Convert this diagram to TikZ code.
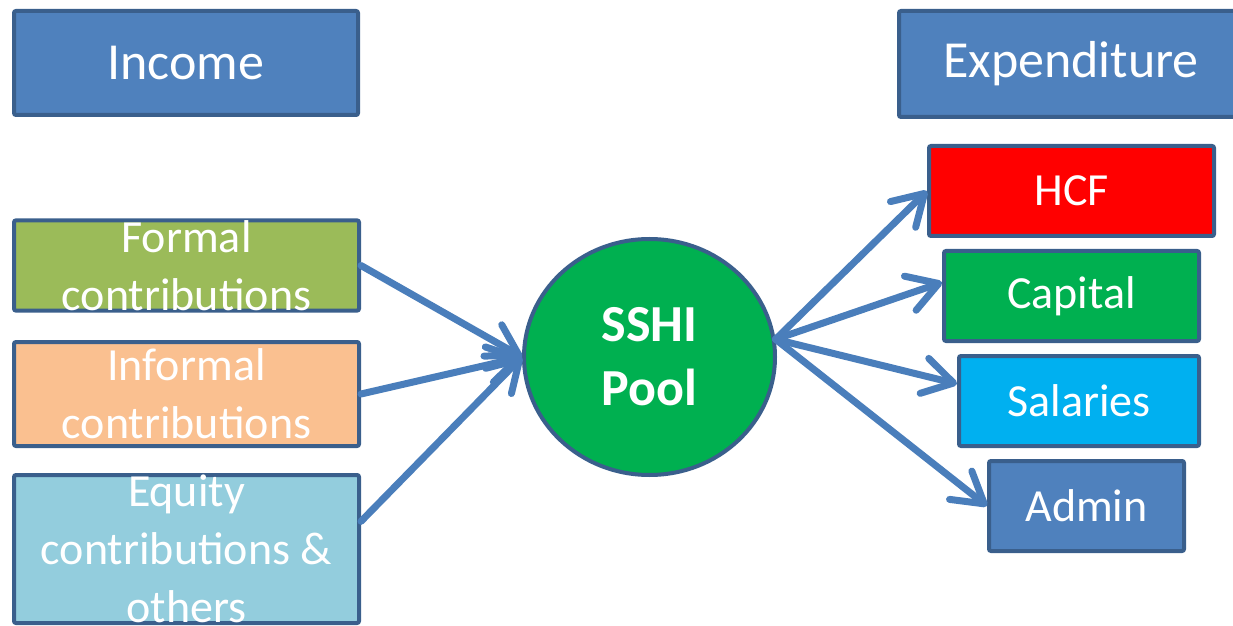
\documentclass[tikz,border=0pt]{standalone}
\usepackage{fontspec}
\setmainfont{Carlito}
\usetikzlibrary{shapes.geometric,arrows.meta}

\definecolor{boxblue}{HTML}{4F81BD}
\definecolor{edgeblue}{HTML}{3A5F8C}
\definecolor{arrowblue}{HTML}{4A7EBB}
\definecolor{formalgreen}{HTML}{9BBB59}
\definecolor{informalpeach}{HTML}{FAC090}
\definecolor{equityblue}{HTML}{93CDDD}
\definecolor{poolgreen}{HTML}{00B050}
\definecolor{hcfred}{HTML}{FF0000}
\definecolor{salaryblue}{HTML}{00B0F0}

\tikzset{
  box/.style={draw=edgeblue, line width=2pt, rounded corners=1pt, inner sep=0pt, text=white, align=center},
  titlebox/.style={box, fill=boxblue, font=\fontsize{26}{32}\selectfont},
  itembox/.style={box, font=\fontsize{23}{29}\selectfont},
  flow/.style={->, draw=arrowblue, line width=3.5pt, line cap=round}
}

\begin{document}
\begin{tikzpicture}[x=0.5pt, y=-0.5pt, >={Straight Barb[length=15pt,width=18pt,round]}]
    \useasboundingbox (0,0) rectangle (1233,626);
    \clip (0,0) rectangle (1233,626);

    % Headings
    \node[titlebox, minimum width=172pt, minimum height=52pt] (income) at (186,63) {Income};
    \node[titlebox, minimum width=172pt, minimum height=53pt] (expenditure) at (1071,64) {Expenditure};

    % Sources of income
    \node[itembox, fill=formalgreen, minimum width=172.5pt, minimum height=45pt] (formal) at (186.5,265.5) {Formal\\contributions};
    \node[itembox, fill=informalpeach, minimum width=172.5pt, minimum height=52pt] (informal) at (186.5,394) {Informal\\contributions};
    \node[itembox, fill=equityblue, minimum width=172.5pt, minimum height=74pt] (equity) at (186.5,549) {Equity\\contributions \&\\others};

    % The pool
    \node[ellipse, draw=edgeblue, line width=2pt, fill=poolgreen, inner sep=0pt,
          minimum width=125.5pt, minimum height=118pt, text=white, align=center,
          font=\fontsize{26}{32}\selectfont\bfseries] (pool) at (649.5,357) {SSHI\\Pool};

    % Items of expenditure
    \node[itembox, fill=hcfred, minimum width=142.5pt, minimum height=45pt] (hcf) at (1071.5,191) {HCF};
    \node[itembox, fill=poolgreen, minimum width=127.5pt, minimum height=45pt] (capital) at (1071.5,296) {Capital};
    \node[itembox, fill=salaryblue, minimum width=120pt, minimum height=45pt] (salaries) at (1079,401) {Salaries};
    \node[itembox, fill=boxblue, minimum width=97.5pt, minimum height=45pt] (admin) at (1086.5,506) {Admin};

    % Money flowing in
    \draw[flow] (formal.east) -- (pool.west);
    \draw[flow] (informal.east) -- (pool.west);
    \draw[flow] (equity.9.5) -- (pool.west);

    % Money flowing out
    \draw[flow] (pool.8) -- (hcf.west);
    \draw[flow] (pool.8) -- (capital.174);
    \draw[flow] (pool.8) -- (salaries.172.5);
    \draw[flow] (pool.8) -- (admin.west);
\end{tikzpicture}
\end{document}
